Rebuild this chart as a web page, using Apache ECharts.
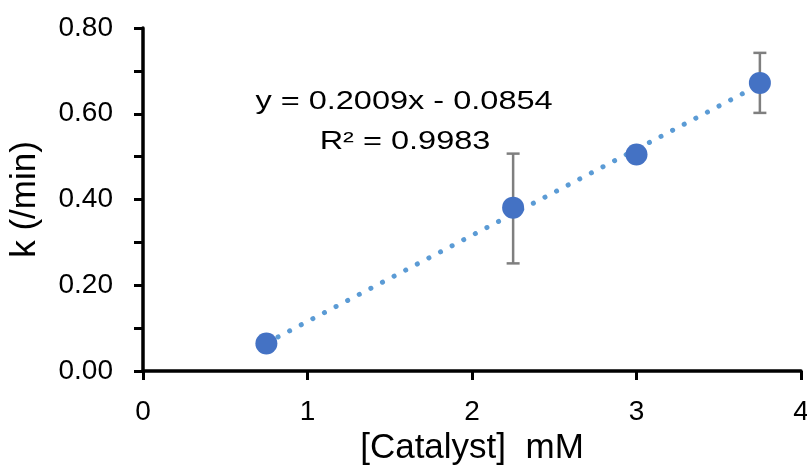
<!DOCTYPE html>
<html>
<head>
<meta charset="utf-8">
<script src="https://cdn.jsdelivr.net/npm/echarts@6/dist/echarts.min.js"></script>
<style>
  html, body { margin: 0; padding: 0; background: #fff; }
  #chart { width: 807px; height: 465px; }
</style>
</head>
<body>
<div id="chart"></div>
<script>
// 数据
const catalyst = [0.75, 2.25, 3.0, 3.75];
const rateK = [0.064, 0.381, 0.505, 0.672];
// 误差棒 [x, 下限, 上限]
const errBars = [
  [2.25, 0.251, 0.507],
  [3.75, 0.602, 0.742]
];
// 趋势线系数
const slope = 0.2009;
const intercept = -0.0854;
const eqText = "y = 0.2009x - 0.0854";
const r2Text = "R² = 0.9983";

const xTicks = [0, 1, 2, 3, 4];

const points = catalyst.map((x, i) => [x, rateK[i]]);
const xFirst = catalyst[0];
const xLast = catalyst[catalyst.length - 1];
const trend = [
  [xFirst, slope * xFirst + intercept],
  [xLast, slope * xLast + intercept]
];

const font = "Liberation Sans, Arial, sans-serif";

let chart = echarts.init(document.getElementById("chart"));
let option = {
  animation: false,
  grid: { left: 143, right: 6, top: 28, bottom: 94, outerBoundsMode: "none" },
  xAxis: {
    type: "value",
    min: xTicks[0],
    max: xTicks[xTicks.length - 1],
    interval: 1,
    name: "[Catalyst]  mM",
    nameLocation: "middle",
    nameGap: 55,
    nameTextStyle: { fontSize: 35, color: "#000", fontFamily: font },
    axisLine: { show: true, lineStyle: { color: "#000", width: 3.5 } },
    axisTick: { show: true, inside: false, length: 9, lineStyle: { color: "#000", width: 3 } },
    axisLabel: { fontSize: 28, color: "#000", fontFamily: font, margin: 27 },
    splitLine: { show: false }
  },
  yAxis: {
    type: "value",
    min: 0,
    max: 0.8,
    interval: 0.2,
    name: "k (/min)",
    nameLocation: "middle",
    nameGap: 100,
    nameTextStyle: { fontSize: 35, color: "#000", fontFamily: font },
    axisLine: { show: true, lineStyle: { color: "#000", width: 3.5 } },
    axisTick: { show: true, inside: false, length: 9, lineStyle: { color: "#000", width: 3 } },
    minorTick: { show: true, splitNumber: 2, length: 9, lineStyle: { color: "#000", width: 3 } },
    axisLabel: {
      fontSize: 28, color: "#000", fontFamily: font, margin: 30,
      formatter: (v) => v.toFixed(2)
    },
    splitLine: { show: false }
  },
  series: [
    {
      // 趋势线（点线）
      type: "line",
      data: trend,
      symbol: "none",
      lineStyle: { color: "#5B9BD5", width: 5, type: [0.1, 13], cap: "round" },
      z: 2
    },
    {
      // 误差棒
      type: "custom",
      data: errBars,
      renderItem: function (params, api) {
        const x = api.value(0);
        const lo = api.coord([x, api.value(1)]);
        const hi = api.coord([x, api.value(2)]);
        const cap = 6.5;
        const style = { stroke: "#7F7F7F", lineWidth: 2.5 };
        return {
          type: "group",
          children: [
            { type: "line", shape: { x1: lo[0], y1: lo[1], x2: hi[0], y2: hi[1] }, style: style },
            { type: "line", shape: { x1: lo[0] - cap, y1: lo[1], x2: lo[0] + cap, y2: lo[1] }, style: style },
            { type: "line", shape: { x1: hi[0] - cap, y1: hi[1], x2: hi[0] + cap, y2: hi[1] }, style: style }
          ]
        };
      },
      z: 1
    },
    {
      type: "scatter",
      data: points,
      symbol: "circle",
      symbolSize: 22,
      itemStyle: { color: "#4472C4", opacity: 1 },
      z: 3
    }
  ],
  graphic: [
    {
      type: "text",
      x: 404,
      y: 102,
      scaleX: 1.25,
      style: {
        text: eqText, fontSize: 26, fill: "#000", fontFamily: font,
        align: "center", verticalAlign: "middle"
      }
    },
    {
      type: "text",
      x: 405,
      y: 142,
      scaleX: 1.25,
      style: {
        text: r2Text, fontSize: 26, fill: "#000", fontFamily: font,
        align: "center", verticalAlign: "middle"
      }
    }
  ]
};
chart.setOption(option);
</script>
</body>
</html>
